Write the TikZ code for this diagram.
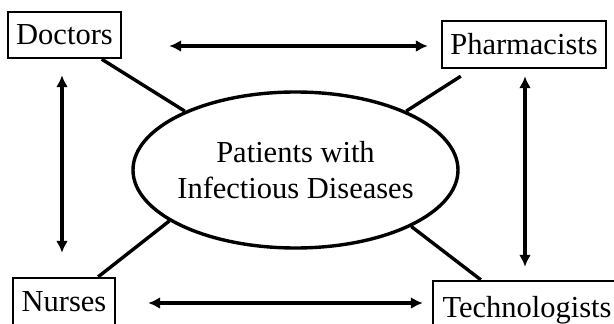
\documentclass[tikz,border=0pt]{standalone}
\usepackage{fontspec}
\setmainfont{Liberation Serif}
\usetikzlibrary{arrows.meta, shapes.geometric}

\begin{document}
\begin{tikzpicture}[x=1pt, y=-1pt,
    role/.style={draw, line width=2.4pt, font=\fontsize{30.5}{36}\selectfont, inner sep=0, text height=20pt, text depth=0pt, minimum height=47pt},
    link/.style={line width=3.4pt},
    both/.style={line width=3.4pt, {Latex[length=12pt,width=12pt]}-{Latex[length=12pt,width=12pt]}}]

          \useasboundingbox (0,0) rectangle (614,324);
          \clip (0,0) rectangle (614,324);
          \node[ellipse, draw, line width=3.4pt, minimum width=325pt, minimum height=156pt, inner xsep=-4pt, inner ysep=0, align=center, font=\fontsize{30.5}{36}\selectfont] (pat) at (295.5,170) {Patients with\\Infectious Diseases};
          \node[role, minimum width=113pt, minimum height=46pt] (doc) at (64.5,35) {Doctors};
          \node[role, minimum width=164pt] (pha) at (524,44.5) {Pharmacists};
          \node[role, minimum width=102pt] (nur) at (64,301.5) {Nurses};
          \node[role, minimum width=188pt, minimum height=52pt] (tec) at (527,307) {Technologists};

          \draw[link] (doc.-33) -- (pat.152);
          \draw[link] (pat.28) -- ([shift={(20,7)}]pha.south west);
          \draw[link] ([shift={(-18,0)}]nur.north east) -- (pat.202.5);
          \draw[link] (pat.-26) -- ([shift={(49,0)}]tec.north west);

          \draw[both] ([shift={(47,11)}]doc.east) -- ([shift={(-13,1.5)}]pha.west);
          \draw[both] ([shift={(32,1.5)}]nur.east) -- ([shift={(-9,-4)}]tec.west);
          \draw[both] ([shift={(-2.5,16)}]doc.south) -- ([shift={(-2,-24)}]nur.north);
          \draw[both] ([shift={(1,7)}]pha.south) -- ([shift={(-2,-13)}]tec.north);
        \end{tikzpicture}
\end{document}
